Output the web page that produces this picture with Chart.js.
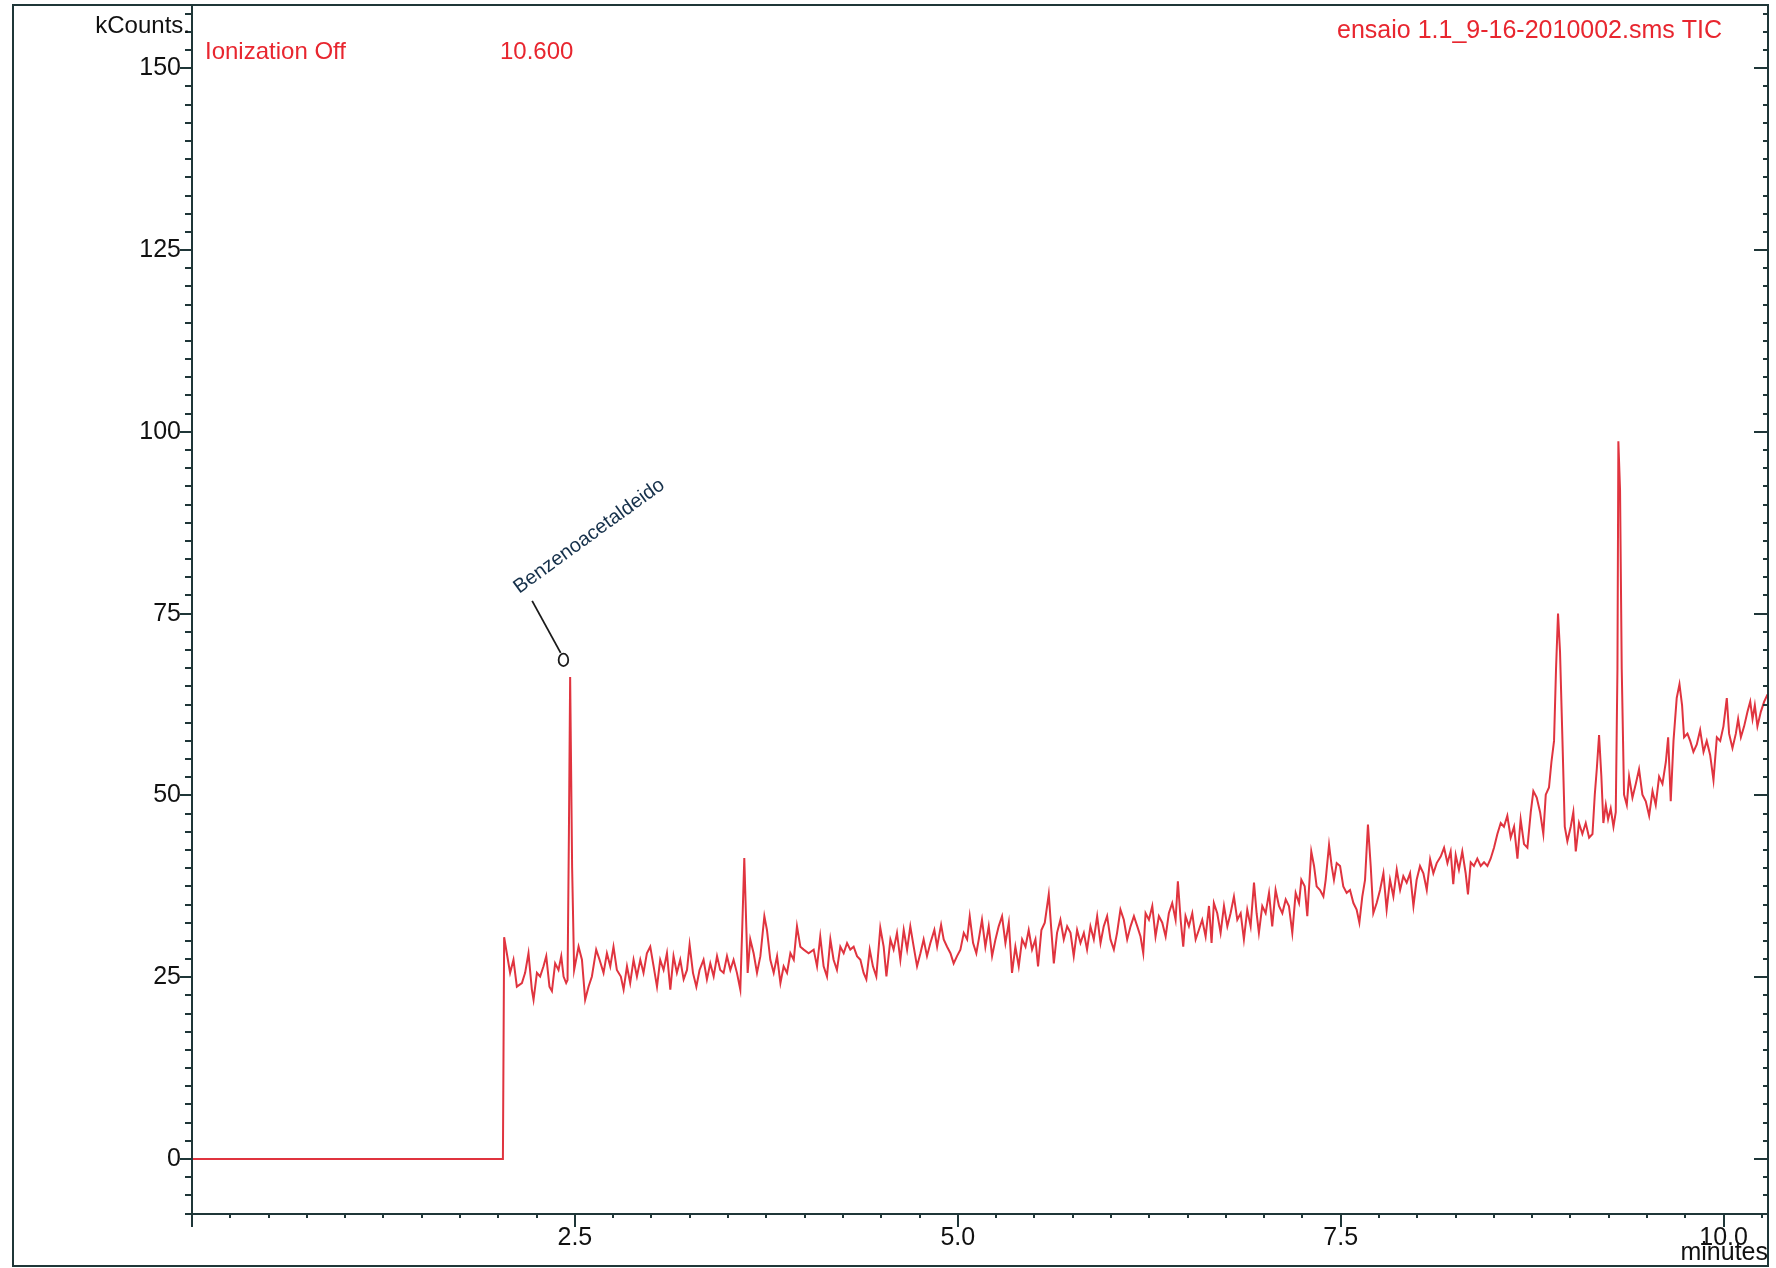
<!DOCTYPE html>
<html>
<head>
<meta charset="utf-8">
<script src="https://cdn.jsdelivr.net/npm/chart.js@4/dist/chart.umd.min.js"></script>
<style>
html,body{margin:0;padding:0;background:#ffffff;}
#wrap{width:1776px;height:1268px;position:relative;}
</style>
</head>
<body>
<div id="wrap"><canvas id="c" width="1776" height="1268"></canvas></div>
<script>
// ---------- DATA (retention time in minutes, signal in kCounts) ----------
const preIonization = [[0,0],[2.030,0]];
const segmentA = [[2.038,30.5],[2.077,25.6],[2.099,27.4],[2.121,23.7],[2.154,24.2],[2.175,25.6],[2.197,28.3],[2.219,23.3],[2.230,21.9],[2.252,25.6],[2.273,25.1],[2.295,26.5],[2.313,27.9],[2.334,23.7],[2.350,23.1],[2.371,26.9],[2.393,26.0],[2.411,27.9],[2.426,25.1],[2.443,24.2],[2.452,24.6],[2.461,45.0],[2.469,66.3],[2.482,40.0],[2.495,26.0],[2.524,29.2],[2.546,27.4],[2.567,21.9],[2.589,23.7],[2.611,25.1],[2.639,28.8],[2.661,27.4],[2.687,25.6],[2.709,28.3],[2.731,26.5],[2.752,29.2],[2.774,26.0],[2.800,25.1],[2.818,23.3],[2.840,26.5],[2.861,24.2],[2.883,27.4],[2.905,25.1],[2.927,27.4],[2.948,25.6],[2.970,28.3],[2.992,29.2],[3.014,26.5],[3.036,23.7],[3.057,27.4],[3.079,26.0],[3.101,28.3],[3.123,23.3],[3.144,27.9],[3.166,25.6],[3.188,27.4],[3.210,24.7],[3.232,26.0],[3.249,29.5],[3.271,25.6],[3.293,23.7],[3.314,26.0],[3.340,27.4],[3.362,24.7],[3.384,26.9],[3.406,25.1],[3.428,27.9],[3.449,26.0],[3.471,25.6],[3.493,27.9],[3.515,26.0],[3.536,27.4],[3.558,25.6],[3.580,23.3],[3.593,32.0],[3.606,41.4],[3.619,32.0],[3.628,25.6],[3.645,30.2],[3.667,28.3],[3.689,25.6],[3.711,27.9],[3.737,33.4],[3.754,31.5],[3.776,27.4],[3.798,25.6],[3.820,27.9],[3.842,24.2],[3.863,26.5],[3.885,25.6],[3.907,28.3],[3.929,27.4],[3.950,32.0],[3.972,29.2],[3.994,28.8],[4.026,28.3]];
const segmentB = [[4.059,28.8],[4.081,26.5],[4.102,30.6],[4.124,26.5],[4.146,25.1],[4.168,30.2],[4.189,27.4],[4.211,26.0],[4.233,29.2],[4.255,28.3],[4.277,29.7],[4.298,28.8],[4.320,29.2],[4.342,27.9],[4.364,27.4],[4.385,25.6],[4.403,24.7],[4.425,28.8],[4.446,26.5],[4.468,25.1],[4.494,31.8],[4.516,29.2],[4.534,25.1],[4.560,30.2],[4.581,28.8],[4.603,31.1],[4.625,27.4],[4.647,31.5],[4.669,28.8],[4.690,32.0],[4.712,29.2],[4.734,26.5],[4.756,28.3],[4.777,30.2],[4.799,27.9],[4.821,29.7],[4.847,31.5],[4.865,29.2],[4.891,32.2],[4.908,30.2],[4.930,29.2],[4.952,28.3],[4.973,26.9],[4.995,27.9],[5.017,28.8],[5.039,31.1],[5.061,30.2],[5.078,33.4],[5.100,29.7],[5.121,28.3],[5.137,30.2],[5.158,32.9],[5.180,29.2],[5.202,32.0],[5.224,27.9],[5.246,30.2],[5.267,32.0],[5.289,33.4],[5.311,29.7],[5.333,32.5],[5.354,25.6],[5.376,29.2],[5.398,26.5],[5.420,30.2],[5.442,29.2],[5.463,31.5],[5.485,28.8],[5.507,30.2],[5.524,26.5],[5.546,31.5],[5.568,32.5],[5.594,36.4],[5.609,32.0],[5.627,26.9],[5.648,31.1],[5.670,32.9],[5.692,30.2],[5.714,32.0],[5.736,31.1],[5.757,27.9],[5.779,31.5],[5.801,29.7],[5.823,31.1],[5.844,28.8],[5.866,32.0],[5.888,30.2],[5.910,33.4],[5.932,29.7],[5.953,32.0],[5.975,33.4],[5.997,30.2],[6.019,28.8],[6.040,31.1],[6.062,34.3],[6.084,32.9],[6.106,30.2]];
const segmentC = [[6.128,32.0],[6.150,33.4],[6.172,32.0],[6.193,30.6],[6.211,28.3],[6.226,33.8],[6.248,32.9],[6.270,34.8],[6.291,30.6],[6.313,33.4],[6.335,32.5],[6.357,30.6],[6.378,33.8],[6.400,35.2],[6.422,32.9],[6.437,38.2],[6.455,32.9],[6.472,29.2],[6.487,33.4],[6.509,32.0],[6.531,33.8],[6.553,30.2],[6.574,31.5],[6.596,32.9],[6.618,30.6],[6.640,34.8],[6.657,29.7],[6.672,35.2],[6.694,33.8],[6.716,31.1],[6.738,34.8],[6.760,32.0],[6.781,33.8],[6.803,36.1],[6.825,32.9],[6.847,33.8],[6.868,30.2],[6.890,34.3],[6.912,32.0],[6.934,38.0],[6.951,33.8],[6.966,31.1],[6.988,34.8],[7.010,33.8],[7.032,36.6],[7.053,32.0],[7.075,37.0],[7.097,34.8],[7.119,33.8],[7.141,35.7],[7.162,34.8],[7.184,31.1],[7.206,36.6],[7.228,35.2],[7.243,38.4],[7.265,37.5],[7.282,33.4],[7.308,42.3],[7.326,40.3],[7.343,37.5],[7.365,37.0],[7.387,36.1],[7.402,38.4],[7.424,43.2],[7.441,40.3],[7.456,38.4],[7.474,40.7],[7.496,40.3],[7.517,37.5],[7.539,36.6],[7.561,37.0],[7.583,35.2],[7.604,34.3],[7.622,32.5],[7.641,36.1],[7.659,38.4],[7.678,46.0],[7.696,40.3],[7.713,33.8],[7.735,35.2],[7.757,37.0],[7.779,39.3],[7.800,34.3],[7.822,38.4],[7.844,36.1],[7.866,39.8],[7.888,37.0],[7.909,38.9],[7.931,38.0],[7.953,39.3],[7.975,34.8],[7.996,38.4],[8.018,40.3],[8.040,39.3],[8.062,37.0],[8.084,41.2],[8.105,39.3],[8.127,40.7],[8.153,41.6],[8.175,42.8],[8.197,40.7]];
const segmentD = [[8.218,42.3],[8.235,37.8],[8.251,41.8],[8.272,39.8],[8.294,42.3],[8.316,39.3],[8.331,36.4],[8.349,40.8],[8.370,40.3],[8.392,41.3],[8.414,40.3],[8.436,40.8],[8.458,40.3],[8.479,41.3],[8.501,42.8],[8.523,44.7],[8.545,46.2],[8.566,45.7],[8.588,47.2],[8.610,44.2],[8.632,45.7],[8.654,41.3],[8.675,46.7],[8.697,43.3],[8.719,42.8],[8.741,47.7],[8.758,50.6],[8.780,49.7],[8.802,47.7],[8.823,44.7],[8.839,50.1],[8.860,51.1],[8.876,54.6],[8.893,57.5],[8.906,67.4],[8.919,75.0],[8.932,69.8],[8.948,57.5],[8.963,45.7],[8.980,43.7],[9.002,45.7],[9.019,47.7],[9.035,42.3],[9.056,46.2],[9.078,44.7],[9.100,46.2],[9.122,44.2],[9.144,44.7],[9.159,50.1],[9.172,53.6],[9.187,58.3],[9.202,52.6],[9.215,46.2],[9.231,48.7],[9.246,46.7],[9.263,48.2],[9.281,45.7],[9.296,47.7],[9.307,67.4],[9.313,98.7],[9.324,92.0],[9.335,67.4],[9.350,50.1],[9.368,48.7],[9.383,52.6],[9.405,49.7],[9.427,51.6],[9.448,53.6],[9.470,50.1],[9.492,49.2],[9.514,47.2],[9.536,50.6],[9.557,48.7],[9.579,52.6],[9.601,51.6],[9.623,54.6],[9.638,58.0],[9.655,49.2],[9.673,57.5],[9.694,63.4],[9.712,65.3],[9.729,62.4],[9.742,58.0],[9.764,58.5],[9.782,57.5],[9.803,56.0],[9.825,57.0],[9.847,59.0],[9.869,56.0],[9.890,57.5],[9.912,55.6],[9.934,52.1],[9.956,58.0],[9.978,57.5],[9.999,59.5],[10.021,63.4],[10.036,58.5],[10.058,56.5],[10.080,58.5],[10.095,60.5],[10.113,58.0],[10.134,59.5],[10.156,61.5],[10.174,62.9],[10.189,60.5],[10.204,62.4],[10.221,59.5],[10.243,61.5],[10.265,62.9],[10.287,63.9]];

const yMajorValues = [0, 25, 50, 75, 100, 125, 150];
const yTickLabels = ['0', '25', '50', '75', '100', '125', '150'];
const xMajorValues = [2.5, 5, 7.5, 10];
const xTickLabels = ['2.5', '5.0', '7.5', '10.0'];
const yAxisUnit = 'kCounts.';
const xAxisUnit = 'minutes';
const headerLeft = 'Ionization Off';
const headerTime = '10.600';
const headerTitle = 'ensaio 1.1_9-16-2010002.sms TIC';
const peakLabel = 'Benzenoacetaldeido';
const peakLabelPoint = [2.469, 66.3];

// ---------- STYLE ----------
const FONT = '"Liberation Sans", Arial, Helvetica, sans-serif';
const AXIS = '#1f3638';
const RED_LINE = '#e0343f';
const RED_TEXT = '#e8262f';

// minor ticks every 2.5 kCounts / 0.25 min (axis decoration)
const yTickValues = [];
for (let k = -3; k <= 63; k++) yTickValues.push(Math.round(k * 25) / 10);
const xTickValues = [];
for (let k = 0; k <= 41; k++) xTickValues.push(Math.round(k * 25) / 100);

function labelFor(value, majors, labels) {
  for (let i = 0; i < majors.length; i++) if (Math.abs(value - majors[i]) < 1e-6) return labels[i];
  return '';
}

const series = [...preIonization, ...segmentA, ...segmentB, ...segmentC, ...segmentD].map(([x, y]) => ({x, y}));

const decor = {
  id: 'decor',
  afterDraw(chart) {
    const {ctx, chartArea: a, scales: {x, y}} = chart;
    const L = Math.round(a.left), R = Math.round(a.right), T = Math.round(a.top), B = Math.round(a.bottom);
    ctx.save();
    ctx.strokeStyle = AXIS;
    ctx.lineWidth = 2;
    ctx.lineCap = 'butt';
    // outer frame
    ctx.beginPath();
    ctx.moveTo(13, T); ctx.lineTo(R + 1, T);
    ctx.moveTo(R, T); ctx.lineTo(R, 1266);
    ctx.moveTo(R + 1, 1266); ctx.lineTo(12, 1266);
    ctx.moveTo(13, 1266); ctx.lineTo(13, T - 1);
    ctx.stroke();
    // y axis & x axis lines
    ctx.beginPath();
    ctx.moveTo(L, T); ctx.lineTo(L, B);
    ctx.moveTo(L, B); ctx.lineTo(R, B);
    ctx.stroke();
    // y ticks (left outward, right inward)
    ctx.beginPath();
    yTickValues.forEach(v => {
      const p = Math.round(y.getPixelForValue(v));
      const major = labelFor(v, yMajorValues, yTickLabels) !== '';
      const len = major ? 12 : 7;
      ctx.moveTo(L - len, p); ctx.lineTo(L, p);
      const rl = major ? 14 : 5;
      ctx.moveTo(R - rl, p); ctx.lineTo(R, p);
    });
    // x ticks (downward)
    xTickValues.forEach(v => {
      const p = Math.round(x.getPixelForValue(v));
      const r = Math.abs(v / 2.5 - Math.round(v / 2.5));
      const len = r < 1e-6 ? 13 : 4;
      ctx.moveTo(p, B); ctx.lineTo(p, B + len);
    });
    ctx.stroke();

    // header texts
    ctx.font = '24px ' + FONT;
    ctx.textBaseline = 'alphabetic';
    ctx.fillStyle = '#111111';
    ctx.textAlign = 'right';
    ctx.fillText(yAxisUnit, 190, 33);
    ctx.fillStyle = RED_TEXT;
    ctx.textAlign = 'left';
    ctx.fillText(headerLeft, 205, 59);
    ctx.fillText(headerTime, 500, 59);
    ctx.textAlign = 'right';
    ctx.font = '25px ' + FONT;
    ctx.fillText(headerTitle, 1722, 38);

    // peak annotation
    const px = x.getPixelForValue(peakLabelPoint[0]);
    const py = y.getPixelForValue(peakLabelPoint[1]);
    ctx.strokeStyle = '#1a1a1a';
    ctx.lineWidth = 1.8;
    ctx.beginPath();
    ctx.moveTo(px - 38, py - 76); ctx.lineTo(px - 9.5, py - 24);
    ctx.stroke();
    ctx.beginPath();
    ctx.ellipse(px - 6.7, py - 17, 4.8, 6.2, 0, 0, Math.PI * 2);
    ctx.stroke();
    ctx.save();
    ctx.translate(px - 51, py - 83);
    ctx.rotate(-36 * Math.PI / 180);
    ctx.font = '20px ' + FONT;
    ctx.fillStyle = '#15304a';
    ctx.textAlign = 'left';
    ctx.fillText(peakLabel, 0, 0);
    ctx.restore();
    ctx.restore();
  }
};

new Chart(document.getElementById('c'), {
  type: 'line',
  data: {
    datasets: [{
      label: 'TIC',
      data: series,
      borderColor: RED_LINE,
      borderWidth: 2,
      pointRadius: 0,
      tension: 0,
      fill: false
    }]
  },
  options: {
    responsive: false,
    animation: false,
    devicePixelRatio: 1,
    layout: {padding: {left: 0, right: 8, top: 5, bottom: 0}},
    plugins: {legend: {display: false}, tooltip: {enabled: false}, title: {display: false}},
    scales: {
      x: {
        type: 'linear',
        position: 'bottom',
        min: 0,
        max: 10.29,
        afterBuildTicks: ax => { ax.ticks = xTickValues.map(v => ({value: v})); },
        afterFit: ax => { ax.height = 54; ax.paddingLeft = 0; ax.paddingRight = 0; },
        grid: {display: false, drawTicks: false},
        border: {display: false},
        ticks: {
          autoSkip: false, maxRotation: 0, minRotation: 0, padding: 9,
          color: '#111111', font: {family: FONT, size: 25},
          callback: v => labelFor(v, xMajorValues, xTickLabels)
        },
        title: {
          display: true, text: xAxisUnit, align: 'end', color: '#111111',
          font: {family: FONT, size: 25}, padding: {top: 0, bottom: 0}
        }
      },
      y: {
        type: 'linear',
        min: -7.56,
        max: 158.7,
        afterBuildTicks: ax => { ax.ticks = yTickValues.map(v => ({value: v})); },
        afterFit: ax => { ax.width = 192; ax.paddingTop = 0; ax.paddingBottom = 0; },
        grid: {display: false, drawTicks: false},
        border: {display: false},
        ticks: {
          autoSkip: false, padding: 11,
          color: '#111111', font: {family: FONT, size: 25},
          callback: v => labelFor(v, yMajorValues, yTickLabels)
        }
      }
    }
  },
  plugins: [decor]
});
</script>
</body>
</html>
